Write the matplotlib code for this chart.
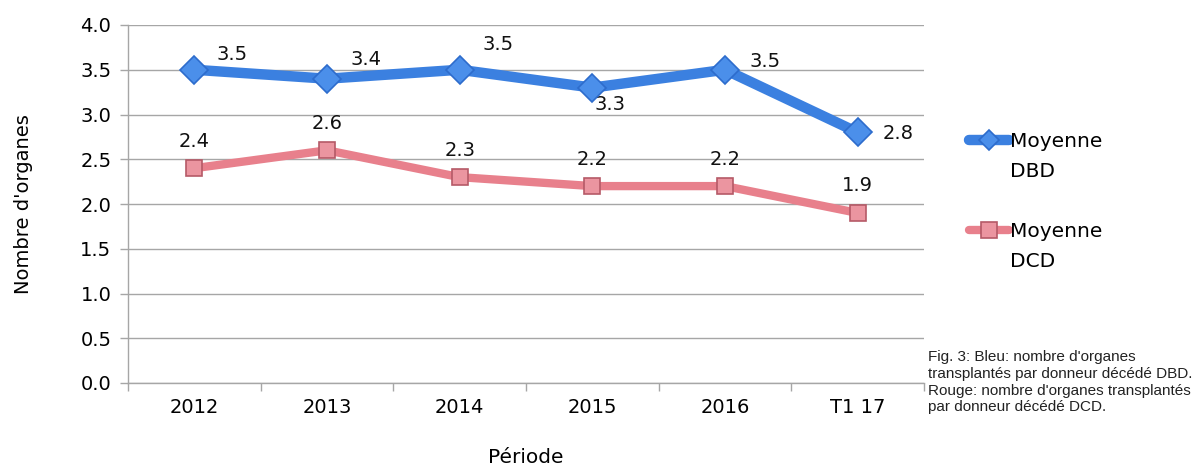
import matplotlib
matplotlib.use('Agg')
import matplotlib.pyplot as plt
from matplotlib.ticker import FixedLocator, MultipleLocator, FormatStrFormatter

# Data
periods = ['2012', '2013', '2014', '2015', '2016', 'T1 17']
dbd = [3.5, 3.4, 3.5, 3.3, 3.5, 2.8]
dcd = [2.4, 2.6, 2.3, 2.2, 2.2, 1.9]

# label offsets in points (style only)
dbd_offsets = [(27, 11), (28, 14), (28, 18), (13, -12), (29, 6), (29, -1)]
dcd_offsets = [(0, 19.5)] * 6

BLUE = '#3b80e0'
PINK = '#e8808c'
GRID = '#a6a6a6'
FS = 14

plt.rcParams['font.family'] = ['DejaVu Sans']

fig = plt.figure(figsize=(11.98, 4.70), dpi=100)
ax = fig.add_axes([128 / 1198, 87 / 470, 796 / 1198, 358 / 470])

x = list(range(len(periods)))
l1, = ax.plot(x, dbd, color=BLUE, lw=7.5, marker='D', markersize=14,
              markerfacecolor='#4b8fea', markeredgecolor='#2d6ccc',
              markeredgewidth=1.2, solid_capstyle='round', zorder=4,
              label='Moyenne')
l2, = ax.plot(x, dcd, color=PINK, lw=6, marker='s', markersize=12,
              markerfacecolor='#eb95a0', markeredgecolor='#b55a67',
              markeredgewidth=1.2, solid_capstyle='round', zorder=3,
              label='Moyenne')

for xi, v, off in zip(x, dbd, dbd_offsets):
    ax.annotate(f'{v:.1f}', (xi, v), xytext=off, textcoords='offset points',
                ha='center', va='center', fontsize=FS, color='#111111')
for xi, v, off in zip(x, dcd, dcd_offsets):
    ax.annotate(f'{v:.1f}', (xi, v), xytext=off, textcoords='offset points',
                ha='center', va='center', fontsize=FS, color='#111111')

ax.set_xlim(-0.5, len(periods) - 0.5)
ax.set_ylim(0, 4.0)
ax.yaxis.set_major_locator(MultipleLocator(0.5))
ax.yaxis.set_major_formatter(FormatStrFormatter('%.1f'))
ax.set_xticks(x)
ax.set_xticklabels(periods)
ax.xaxis.set_minor_locator(FixedLocator([i - 0.5 for i in range(len(periods) + 1)]))
ax.tick_params(axis='x', which='major', length=0, pad=11, labelsize=FS)
ax.tick_params(axis='x', which='minor', length=6, color=GRID, width=1)
ax.tick_params(axis='y', length=6, color=GRID, width=1, labelsize=FS, pad=6)
ax.grid(axis='y', color=GRID, lw=1)
ax.set_axisbelow(True)
for s in ['top', 'right']:
    ax.spines[s].set_visible(False)
for s in ['left', 'bottom']:
    ax.spines[s].set_color(GRID)
    ax.spines[s].set_linewidth(1)

ax.set_ylabel("Nombre d'organes", fontsize=14, labelpad=34)
ax.set_xlabel('Période', fontsize=14.5, labelpad=22)

leg = ax.legend(handles=[l1, l2], loc='upper left',
                bbox_to_anchor=(951 / 1198, (470 - 114) / 470),
                bbox_transform=fig.transFigure, frameon=False,
                fontsize=14.5, handlelength=2.0, handletextpad=0.05,
                labelspacing=3.5)
leg.legend_handles[0].set_markersize(10)
leg.legend_handles[1].set_markersize(12)

# second line of each legend label
for txt, second in zip(leg.get_texts(), ['DBD', 'DCD']):
    ax.annotate(second, xy=(0, 0), xycoords=txt, xytext=(0, -8),
                textcoords='offset points', ha='left', va='top',
                fontsize=14.5, zorder=10)

fig.text(928 / 1198, 120 / 470,
         "Fig. 3: Bleu: nombre d'organes\ntransplantés par donneur décédé DBD.\n"
         "Rouge: nombre d'organes transplantés\npar donneur décédé DCD.",
         family='Liberation Sans', fontsize=11, va='top', ha='left',
         linespacing=1.25, color='#222222')

fig.savefig('out.png', dpi=100)
